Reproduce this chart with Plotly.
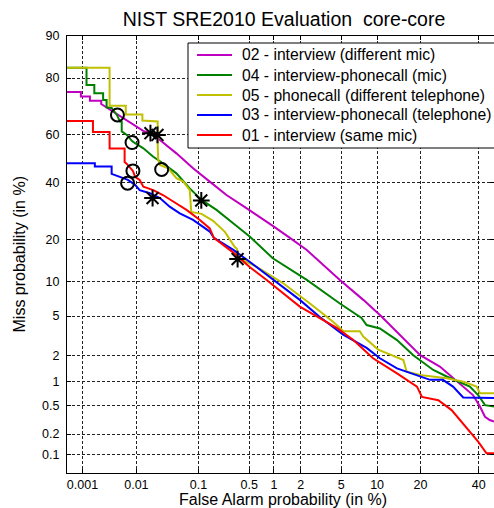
from statistics import NormalDist
import plotly.graph_objects as go

# ---------------- data (percent) ----------------
names = ["02 - interview (different mic)",
         "04 - interview-phonecall (mic)",
         "05 - phonecall (different telephone)",
         "03 - interview-phonecall (telephone)",
         "01 - interview (same mic)"]
colors = ["#c000c0", "#008000", "#c0c000", "#0000ff", "#ff0000"]

fa_02 = [0.00049, 0.00093, 0.00093, 0.0014, 0.0014, 0.0023, 0.0023, 0.0030, 0.0046, 0.0077,
         0.0131, 0.0177, 0.025, 0.046, 0.083, 0.146, 0.25, 0.42, 0.68, 0.97,
         1.52, 2.31, 4.86, 7.76, 10.7, 19.9, 25.9, 29.9, 34.1, 37.8,
         40.5, 42.5, 44.4, 46.1]
miss_02 = [75.7, 75.7, 74.2, 74.2, 72.7, 72.7, 71.6, 70.2, 67.6, 64.9,
           61.4, 60.4, 57.7, 52.2, 46.0, 40.5, 35.2, 31.0, 27.1, 24.1,
           20.4, 17.0, 10.25, 7.0, 5.0, 2.0, 1.49, 1.14, 0.86, 0.675,
           0.48, 0.35, 0.315, 0.30]

fa_04 = [0.00049, 0.0012, 0.0012, 0.0017, 0.0017, 0.0025, 0.0025, 0.0029, 0.0029, 0.0036,
         0.0045, 0.0051, 0.0055, 0.0055, 0.0068, 0.0084, 0.0095, 0.0132, 0.0194, 0.028,
         0.046, 0.074, 0.111, 0.182, 0.308, 0.51, 0.97, 2.31, 4.86, 7.5,
         8.26, 10.5, 14.0, 18.0, 23.8, 28.2, 36.6, 39.8, 42.5, 46.1]
miss_04 = [82.9, 82.9, 77.9, 77.9, 75.3, 75.3, 73.0, 73.0, 70.4, 70.2,
           67.6, 65.1, 65.0, 61.2, 59.8, 57.3, 56.4, 54.3, 50.8, 48.1,
           43.9, 37.8, 33.3, 29.6, 25.0, 20.7, 14.9, 10.25, 6.5, 4.8,
           4.1, 3.8, 2.9, 2.0, 1.36, 1.14, 0.86, 0.675, 0.50, 0.48]

fa_05 = [0.00049, 0.0033, 0.0033, 0.0065, 0.0065, 0.0127, 0.0127, 0.0194, 0.023, 0.023,
         0.0235, 0.025, 0.034, 0.046, 0.059, 0.074, 0.078, 0.111, 0.163, 0.238,
         0.277, 0.324, 0.345, 0.36, 0.62, 1.29, 2.49, 4.23, 5.23, 7.26,
         7.76, 10.2, 15.5, 16.3, 19.9, 28.2, 34.1, 39.2, 40.5, 46.1]
miss_05 = [82.9, 82.9, 71.0, 71.0, 67.8, 67.8, 65.5, 65.3, 65.1, 55.0,
           49.4, 47.4, 46.0, 41.9, 40.5, 37.1, 28.9, 28.2, 25.8, 22.2,
           19.8, 17.8, 17.3, 15.0, 12.9, 9.6, 6.5, 4.4, 3.56, 3.56,
           3.15, 2.3, 1.77, 1.30, 1.19, 1.09, 0.99, 0.86, 0.71, 0.71]

fa_03 = [0.00049, 0.00174, 0.00174, 0.0036, 0.0036, 0.0051, 0.0071, 0.0095, 0.0114, 0.017,
         0.025, 0.036, 0.052, 0.083, 0.146, 0.167, 0.31, 0.51, 0.82, 1.95,
         3.13, 5.2, 8.26, 10.5, 14.0, 19.9, 22.8, 26.9, 30.4, 34.1, 46.1]
miss_03 = [48.1, 48.1, 46.7, 46.7, 43.7, 42.4, 41.2, 39.2, 37.1, 35.9,
           34.0, 30.8, 28.4, 26.1, 22.3, 20.4, 17.0, 14.0, 11.2, 7.0,
           4.9, 3.3, 2.4, 1.85, 1.42, 1.14, 1.04, 1.04, 0.86, 0.63, 0.62]

fa_01 = [0.00049, 0.0016, 0.0016, 0.0033, 0.0033, 0.0062, 0.0062, 0.0068, 0.0087, 0.0095,
         0.0114, 0.0132, 0.0194, 0.028, 0.041, 0.066, 0.105, 0.146, 0.167, 0.31,
         0.51, 0.82, 1.95, 4.55, 6.4, 9.3, 14.0, 19.0, 20.4, 25.4,
         29.9, 33.5, 36.6, 39.8, 43.1, 46.1]
miss_01 = [65.3, 65.3, 61.0, 61.0, 54.2, 54.2, 48.6, 47.8, 44.9, 42.5,
           41.2, 38.5, 37.1, 35.2, 32.7, 29.6, 26.1, 23.3, 20.4, 16.3,
           12.8, 10.25, 6.1, 3.85, 2.9, 1.85, 1.24, 0.86, 0.64, 0.58,
           0.43, 0.30, 0.22, 0.155, 0.104, 0.104]

# minimum-DCF points (circles) and actual-DCF points (asterisks)
min_dcf_fa = [0.0046, 0.0084, 0.0267, 0.0070, 0.0087]
min_dcf_miss = [67.6, 56.7, 45.5, 39.9, 44.9]
act_dcf_fa = [0.0174, 0.110, 0.0228, 0.0189, 0.353]
act_dcf_miss = [60.5, 33.1, 59.8, 34.0, 14.7]

x_ticks = [0.001, 0.01, 0.1, 0.5, 1, 2, 5, 10, 20, 40]
x_tick_labels = ["0.001", "0.01", "0.1", "0.5", "1", "2", "5", "10", "20", "40"]
y_ticks = [0.1, 0.2, 0.5, 1, 2, 5, 10, 20, 40, 60, 80, 90]
y_tick_labels = ["0.1", "0.2", "0.5", "1", "2", "5", "10", "20", "40", "60", "80", "90"]
x_limits = [0.00049, 46.1]
y_limits = [0.051, 90]

# ---------------- normal-deviate (probit) scale ----------------
_nd = NormalDist()


def probit(values):
    return [_nd.inv_cdf(v / 100.0) for v in values]


FONT = "Liberation Sans, Arial, Helvetica, sans-serif"
W, H = 494, 508
L, R, T, B = 67, 0, 36, 35
PW, PH = W - L - R, H - T - B


def px(xp):  # pixel -> paper x
    return (xp - L) / PW


def py(yp):  # pixel -> paper y
    return (H - B - yp) / PH


fig = go.Figure()
series = [(fa_02, miss_02), (fa_04, miss_04), (fa_05, miss_05), (fa_03, miss_03), (fa_01, miss_01)]
for (fa, ms), nm, col in zip(series, names, colors):
    fig.add_trace(go.Scatter(x=probit(fa), y=probit(ms), mode="lines", name=nm,
                             showlegend=False, line=dict(color=col, width=2)))

fig.add_trace(go.Scatter(x=probit(min_dcf_fa), y=probit(min_dcf_miss), mode="markers",
                         showlegend=False,
                         marker=dict(symbol="circle-open", size=13, color="black",
                                     line=dict(width=2, color="black"))))
fig.add_trace(go.Scatter(x=probit(act_dcf_fa), y=probit(act_dcf_miss), mode="markers",
                         showlegend=False,
                         marker=dict(symbol="asterisk-open", size=14, color="black",
                                     line=dict(width=2, color="black"))))

axis_common = dict(showline=True, linecolor="black", linewidth=1, mirror="ticks",
                   ticks="inside", ticklen=4, tickcolor="black",
                   showgrid=True, gridcolor="#222222", gridwidth=1, griddash="3px,2px",
                   zeroline=False, tickfont=dict(family=FONT, size=12.5, color="black"))

fig.update_xaxes(range=probit(x_limits), tickmode="array", tickvals=probit(x_ticks),
                 ticktext=x_tick_labels, **axis_common)
fig.update_yaxes(range=probit(y_limits), tickmode="array", tickvals=probit(y_ticks),
                 ticktext=y_tick_labels, ticklabelstandoff=4, **axis_common)

# ---------------- legend box (drawn in paper coordinates) ----------------
shapes = [dict(type="rect", xref="paper", yref="paper", x0=px(188), x1=px(530),
               y0=py(148), y1=py(43), fillcolor="white",
               line=dict(color="black", width=1), layer="above")]
annotations = []
for i, (nm, col) in enumerate(zip(names, colors)):
    yc = 55 + 20 * i
    shapes.append(dict(type="line", xref="paper", yref="paper", x0=px(197), x1=px(232),
                       y0=py(yc), y1=py(yc), line=dict(color=col, width=2), layer="above"))
    annotations.append(dict(text=nm, xref="paper", yref="paper", x=px(240), y=py(yc),
                            xanchor="left", yanchor="middle", showarrow=False,
                            font=dict(family=FONT, size=15.7, color="black")))

annotations += [
    dict(text="False Alarm probability (in %)", xref="paper", yref="paper",
         x=px(283), y=py(499), xanchor="center", yanchor="middle",
         showarrow=False, font=dict(family=FONT, size=16, color="black")),
    dict(text="Miss probability (in %)", xref="paper", yref="paper",
         x=px(19), y=0.5, xanchor="center", yanchor="middle", textangle=-90,
         showarrow=False, font=dict(family=FONT, size=16, color="black")),
]

fig.update_layout(
    width=W, height=H,
    margin=dict(l=L, r=R, t=T, b=B),
    paper_bgcolor="white", plot_bgcolor="white",
    font=dict(family=FONT, color="black"),
    showlegend=False,
    hovermode=False,
    title=dict(text="NIST SRE2010 Evaluation\u00a0 core-core", x=284 / W, xanchor="center",
               y=1 - 19 / H, yanchor="middle", yref="container",
               font=dict(family=FONT, size=19.5, color="black")),
    shapes=shapes,
    annotations=annotations,
)

fig.write_html("out.html", config={"displayModeBar": False},
               post_script="document.body.style.margin='0px';document.body.style.overflow='hidden';")
